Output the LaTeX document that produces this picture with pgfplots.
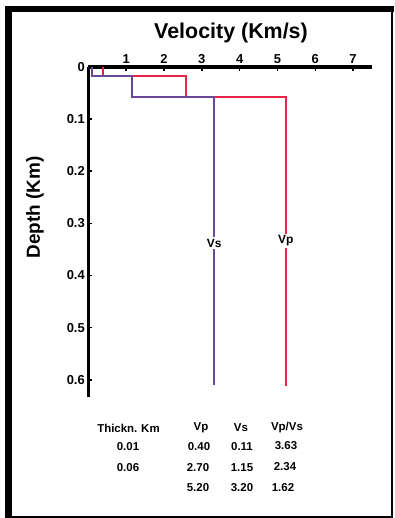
\documentclass[border=0pt]{standalone}
\usepackage{fontspec}
\setmainfont{Liberation Sans}
\usepackage{pgfplots}
\pgfplotsset{compat=1.18}
\definecolor{vpc}{RGB}{232,36,72}
\definecolor{vsc}{RGB}{104,72,152}
\begin{document}
\begin{tikzpicture}[x=1bp,y=1bp]
\path[use as bounding box] (0,0) rectangle (394,-518);
\fill[white] (0,0) rectangle (394,-518);
\draw[line width=7bp] (8.5,-6) -- (8.5,-518);
\draw[line width=6bp] (5,-9) -- (394,-9);
\draw[line width=2bp] (392,-9) -- (392,-518);
\draw[line width=2bp] (5,-517) -- (393,-517);
\node[font=\bfseries\fontsize{21.5}{24}\selectfont] at (231,-33) {Velocity (Km/s)};
\node[font=\bfseries\fontsize{19}{22}\selectfont, rotate=90] at (35,-207.5) {Depth (Km)};
\begin{axis}[
  at={(88.3bp,-66.8bp)}, anchor=north west,
  scale only axis, width=283.7bp, height=330bp,
  xmin=0, xmax=7.5, ymin=0, ymax=0.6326,
  y dir=reverse,
  separate axis lines,
  axis x line*=top, axis y line*=left,
  x axis line style={line width=4.5bp, -},
  y axis line style={line width=3bp, -},
  xtick={1,2,3,4,5,6,7},
  xticklabels={1,2,3,4,5,6,7},
  ytick={0,0.1,0.2,0.3,0.4,0.5,0.6},
  yticklabels={0,0.1,0.2,0.3,0.4,0.5,0.6},
  tick align=inside,
  major tick length=4bp,
  tick style={line width=1.5bp, black},
  ticklabel style={font=\bfseries\fontsize{13}{15}\selectfont},
  clip=false,
]
\addplot[vpc, line width=2bp] coordinates {(0.4,0) (0.4,0.0178) (2.57,0.0178) (2.57,0.0584) (5.22,0.0584) (5.22,0.612)};
\addplot[vsc, line width=2bp] coordinates {(0.11,0) (0.11,0.0178) (1.15,0.0178) (1.15,0.0584) (3.33,0.0584) (3.33,0.61)};
\node[fill=white, inner sep=1.5bp, font=\bfseries\fontsize{12}{14}\selectfont] at (axis cs:3.33,0.338) {Vs};
\node[fill=white, inner sep=1.5bp, font=\bfseries\fontsize{12}{14}\selectfont] at (axis cs:5.22,0.334) {Vp};
\end{axis}
\begin{scope}[every node/.style={font=\bfseries\fontsize{11.5}{13}\selectfont}]
\node at (128.5,-428) {Thickn.\,\,Km};
\node at (201,-428) {Vp};
\node at (241,-428) {Vs};
\node at (287,-428) {Vp/Vs};
\node at (128,-447) {0.01};
\node at (199,-447) {0.40};
\node at (242,-447) {0.11};
\node at (286,-446) {3.63};
\node at (128,-468) {0.06};
\node at (198,-468) {2.70};
\node at (242,-468) {1.15};
\node at (285,-467) {2.34};
\node at (198,-488) {5.20};
\node at (242,-488) {3.20};
\node at (283,-488) {1.62};
\end{scope}
\end{tikzpicture}
\end{document}
